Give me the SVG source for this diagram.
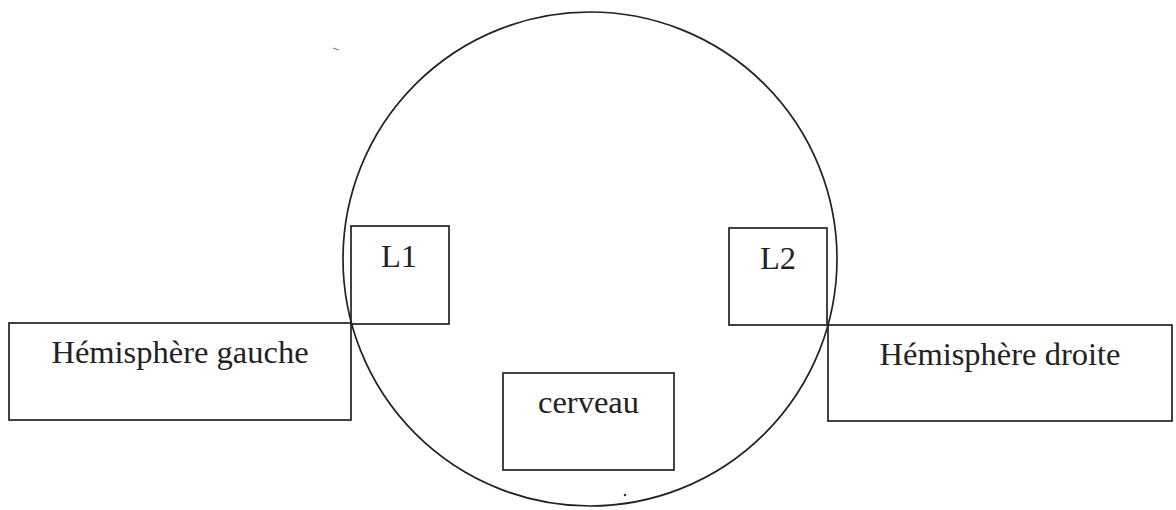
<svg xmlns="http://www.w3.org/2000/svg" width="1176" height="510" viewBox="0 0 1176 510">
<style>
.box{fill:none;stroke:#222;stroke-width:1.7}
.lbl{font-family:"Liberation Serif","Times New Roman",serif;font-size:32.5px;fill:#222;text-anchor:middle}
</style>
<rect width="1176" height="510" fill="#fff"/>
<g id="cerveau-circle">
<circle cx="590" cy="259" r="247" class="box"/>
</g>
<g id="hemisphere-gauche">
<rect x="9" y="323" width="342" height="97" class="box"/>
<text x="180" y="363" class="lbl">Hémisphère gauche</text>
</g>
<g id="hemisphere-droite">
<rect x="828" y="325" width="344" height="96" class="box"/>
<text x="1000" y="365" class="lbl">Hémisphère droite</text>
</g>
<g id="L1">
<rect x="351" y="226" width="98" height="98" class="box"/>
<text x="399" y="267" class="lbl">L1</text>
</g>
<g id="L2">
<rect x="729" y="228" width="98" height="97" class="box"/>
<text x="778" y="269" class="lbl">L2</text>
</g>
<g id="cerveau">
<rect x="503" y="373" width="171" height="97" class="box"/>
<text x="588.5" y="413" class="lbl">cerveau</text>
</g>
<g id="connectors"></g>
<circle cx="625" cy="495" r="1.3" fill="#333"/>
<line x1="333" y1="48" x2="339" y2="50" stroke="#777" stroke-width="1"/>
</svg>
